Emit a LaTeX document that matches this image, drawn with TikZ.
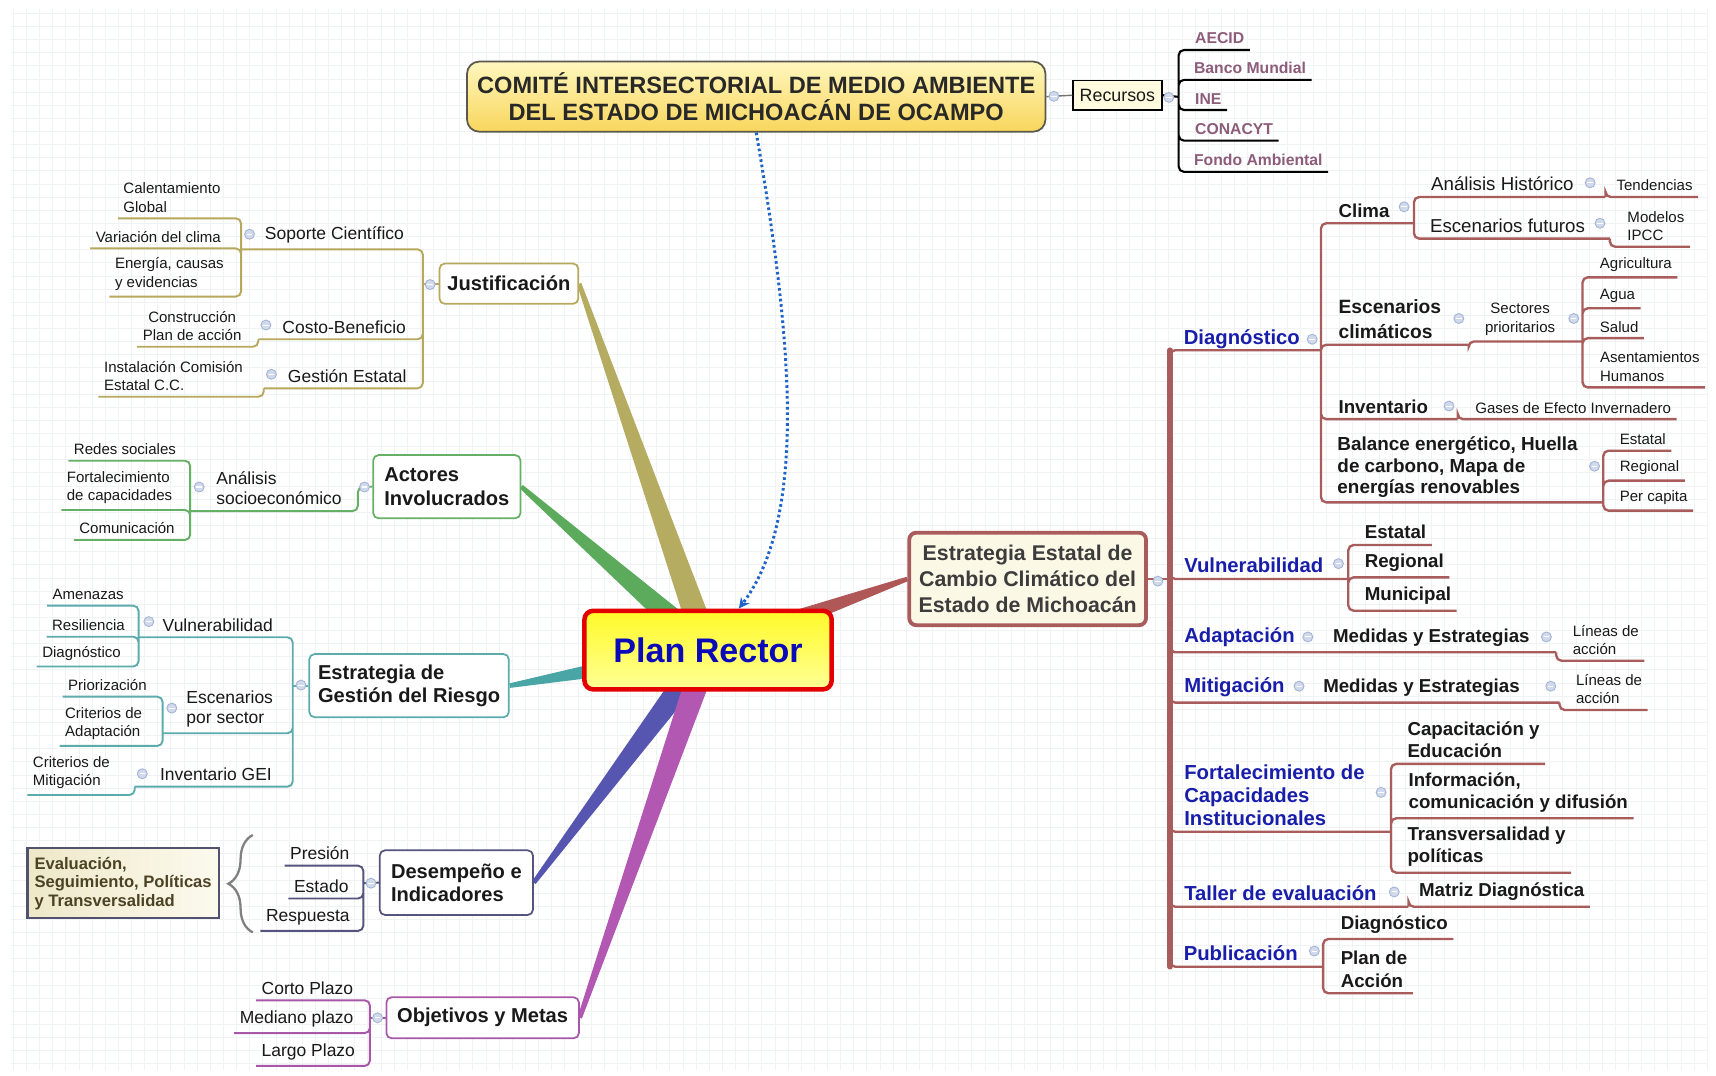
\documentclass[tikz,border=0pt]{standalone}
\usepackage{fontspec}
\setmainfont{Liberation Sans}
\usepackage{tikz}
\usetikzlibrary{positioning,calc,backgrounds,arrows.meta,decorations.pathreplacing}

\definecolor{txtc}{RGB}{25,25,25}
\definecolor{bluet}{RGB}{24,30,170}
\definecolor{resc}{RGB}{140,92,122}
\definecolor{gridc}{RGB}{239,243,244}
\definecolor{togf}{RGB}{208,218,236}
\definecolor{togd}{RGB}{165,180,212}
\definecolor{jusL}{RGB}{182,168,92}
\definecolor{jusW}{RGB}{181,172,98}
\definecolor{actL}{RGB}{102,176,102}
\definecolor{actW}{RGB}{92,170,92}
\definecolor{gesL}{RGB}{92,172,172}
\definecolor{gesW}{RGB}{74,166,166}
\definecolor{desL}{RGB}{84,84,124}
\definecolor{desW}{RGB}{86,86,176}
\definecolor{objL}{RGB}{168,88,168}
\definecolor{objW}{RGB}{178,88,178}
\definecolor{estL}{RGB}{168,92,92}
\definecolor{estW}{RGB}{176,88,88}
\definecolor{estf}{RGB}{252,248,230}
\definecolor{estt}{RGB}{60,60,60}
\definecolor{prred}{RGB}{228,0,0}
\definecolor{prblue}{RGB}{10,10,185}
\definecolor{combd}{RGB}{90,88,76}
\definecolor{recf}{RGB}{255,251,222}
\definecolor{evabd}{RGB}{82,82,112}
\definecolor{evat}{RGB}{76,66,36}
\definecolor{arrc}{RGB}{30,100,200}

\newcommand{\fsmall}{\fontsize{8.6}{10.6}\selectfont}
\newcommand{\fmed}{\fontsize{10}{11.5}\selectfont}
\newcommand{\fmedr}{\fontsize{10.7}{12.5}\selectfont}
\newcommand{\fbold}{\fontsize{10.7}{12.8}\selectfont\bfseries}
\newcommand{\fblue}{\fontsize{11.6}{13.2}\selectfont\bfseries}
\newcommand{\fmain}{\fontsize{11.5}{13.4}\selectfont\bfseries}
\newcommand{\fres}{\fontsize{9}{11}\selectfont\bfseries}

% tapered branch from Plan Rector to a main topic
\newcommand{\taperto}[2]{%
  \fill[#1] ($(#2)!1.3pt!90:(pr.center)$) -- ($(pr.center)!7.5pt!-90:(#2)$)
    -- ($(pr.center)!7.5pt!90:(#2)$) -- ($(#2)!1.3pt!-90:(pr.center)$) -- cycle;}

\tikzset{
  lbl/.style={anchor=south west, inner xsep=3pt, inner ysep=3.2pt, align=left, text=txtc},
  conn/.style={line width=1.1pt, rounded corners=3pt},
  estconn/.style={draw=estL, line width=1.35pt, rounded corners=3pt},
  tog/.style={circle, draw=togd, fill=togf, line width=0.5pt, minimum size=0.2cm, inner sep=0pt,
    path picture={\draw[white, line width=0.6pt] ([xshift=1.3pt]path picture bounding box.west)
      -- ([xshift=-1.3pt]path picture bounding box.east);}},
  topic/.style={draw, fill=white, rounded corners=3pt, line width=1pt, font=\fmain, text=txtc,
    align=left, inner sep=0pt},
  combox/.style={draw=combd, line width=1pt, rounded corners=7pt, top color={rgb,255:red,255;green,247;blue,190},
    bottom color={rgb,255:red,248;green,214;blue,92}, minimum width=11.63cm, minimum height=1.41cm,
    align=center, font=\fontsize{13.5}{14.9}\selectfont\bfseries, text={rgb,255:red,40;green,40;blue,40}},
  recbox/.style={draw=black, fill=recf, line width=1pt, minimum width=1.78cm, minimum height=0.59cm,
    inner sep=0pt, font=\fontsize{10.2}{12}\selectfont, text=txtc},
  prbox/.style={draw=prred, line width=2.6pt, rounded corners=5pt, top color={rgb,255:red,255;green,250;blue,40},
    bottom color={rgb,255:red,255;green,255;blue,150}, minimum width=4.97cm, minimum height=1.58cm,
    font=\fontsize{19.5}{22}\selectfont\bfseries, text=prblue},
  estbox/.style={draw=estL, line width=2.2pt, fill=estf, rounded corners=4pt, minimum width=4.76cm,
    minimum height=1.86cm, align=center, font=\fontsize{12.2}{15}\selectfont\bfseries, text=estt},
  evabox/.style={draw=evabd, line width=1.3pt, left color={rgb,255:red,238;green,232;blue,200},
    right color={rgb,255:red,252;green,250;blue,238}, minimum width=3.85cm, minimum height=1.41cm,
    inner sep=0pt, align=left, font=\fontsize{9.5}{10.6}\selectfont\bfseries, text=evat},
}

\begin{document}
\begin{tikzpicture}[x=0.022cm, y=-0.022cm]
\useasboundingbox (0,0) rectangle (1568,983);
\begin{scope}[on background layer]
  \fill[white] (0,0) rectangle (1568,983);
  \draw[gridc, line width=0.3pt, step=0.264cm] (10,8) grid (1560,978);
\end{scope}

% central and main topics
\node[prbox] (pr) at (647,594) {Plan Rector};
\node[combox] (com) at (691,88.3) {COMITÉ INTERSECTORIAL DE MEDIO AMBIENTE\\DEL ESTADO DE MICHOACÁN DE OCAMPO};
\node[recbox] (rec) at (1021,87) {Recursos};
\node[estbox] (est) at (939,529) {Estrategia Estatal de\\Cambio Climático del\\Estado de Michoacán};
\node[topic, draw=jusL, minimum width=2.79cm, minimum height=0.81cm] (jus) at (465,259.2) {Justificación};
\node[topic, draw=actL, minimum width=2.96cm, minimum height=1.27cm] (act) at (408.3,444.7) {Actores\\Involucrados};
\node[topic, draw=gesL, minimum width=4.01cm, minimum height=1.27cm] (ges) at (373.8,626.5) {Estrategia de\\Gestión del Riesgo};
\node[topic, draw=desL, minimum width=3.08cm, minimum height=1.3cm] (des) at (417,806.5) {Desempeño e\\Indicadores};
\node[topic, draw=objL, minimum width=3.87cm, minimum height=0.825cm] (obj) at (441,930) {Objetivos y Metas};
\node[evabox] (eva) at (112.5,807) {Evaluación,\\Seguimiento, Políticas\\y Transversalidad};

% recursos
\node[lbl, font=\fres, text=resc] (aecid) at (1087,45.7) {AECID};
\node[lbl, font=\fres, text=resc] (banco) at (1086,73) {Banco Mundial};
\node[lbl, font=\fres, text=resc] (ine) at (1087,100.5) {INE};
\node[lbl, font=\fres, text=resc] (conacyt) at (1087,128.5) {CONACYT};
\node[lbl, font=\fres, text=resc] (fondo) at (1086,157) {Fondo Ambiental};

% justificacion
\node[lbl, font=\fmed] (soporte) at (237,227.8) {Soporte Científico};
\node[lbl, font=\fsmall] (calent) at (107.7,199.5) {Calentamiento\\Global};
\node[lbl, font=\fsmall] (variac) at (82.4,227) {Variación del clima};
\node[lbl, font=\fsmall] (energia) at (100,271) {Energía, causas\\y evidencias};
\node[lbl, font=\fmed] (costo) at (253,310) {Costo-Beneficio};
\node[lbl, font=\fsmall, align=center] (constr) at (125.4,316.8) {Construcción\\Plan de acción};
\node[lbl, font=\fmed] (gestest) at (258,354.8) {Gestión Estatal};
\node[lbl, font=\fsmall] (instal) at (90,362.5) {Instalación Comisión\\Estatal C.C.};

% actores
\node[lbl, font=\fmed] (analisis) at (192.6,467) {Análisis\\socioeconómico};
\node[lbl, font=\fsmall] (redes) at (62.5,421) {Redes sociales};
\node[lbl, font=\fsmall] (fortal) at (56,466) {Fortalecimiento\\de capacidades};
\node[lbl, font=\fsmall] (comunic) at (67.4,493.4) {Comunicación};

% gestion del riesgo
\node[lbl, font=\fmed] (vulnL) at (143.6,582.3) {Vulnerabilidad};
\node[lbl, font=\fsmall] (amen) at (43,553.4) {Amenazas};
\node[lbl, font=\fsmall] (resil) at (42.5,581.8) {Resiliencia};
\node[lbl, font=\fsmall] (diagL) at (33.5,609) {Diagnóstico};
\node[lbl, font=\fmed] (escen) at (165.3,670) {Escenarios\\por sector};
\node[lbl, font=\fsmall] (prior) at (57.2,636.6) {Priorización};
\node[lbl, font=\fsmall] (critA) at (54.4,681.6) {Criterios de\\Adaptación};
\node[lbl, font=\fmed] (invGEI) at (141.2,718.8) {Inventario GEI};
\node[lbl, font=\fsmall] (critM) at (25,726.4) {Criterios de\\Mitigación};

% desempeno, objetivos
\node[lbl, font=\fmed] (presion) at (260,791) {Presión};
\node[lbl, font=\fmed] (estado) at (263.6,821) {Estado};
\node[lbl, font=\fmed] (respu) at (238,850.6) {Respuesta};
\node[lbl, font=\fmed] (corto) at (234,914) {Corto Plazo};
\node[lbl, font=\fmed] (mediano) at (214,944) {Mediano plazo};
\node[lbl, font=\fmed] (largo) at (234,974) {Largo Plazo};

% estrategia estatal
\node[lbl, font=\fblue, text=bluet] (diag) at (1076.6,324) {Diagnóstico};
\node[lbl, font=\fbold] (clima) at (1218,204) {Clima};
\node[lbl, font=\fmedr] (anhist) at (1302.6,180) {Análisis Histórico};
\node[lbl, font=\fsmall] (tend) at (1472,180) {Tendencias};
\node[lbl, font=\fmedr] (escfut) at (1301.6,218) {Escenarios futuros};
\node[lbl, font=\fsmall] (modelos) at (1482,225.4) {Modelos\\IPCC};
\node[lbl, font={\fontsize{11}{14.2}\selectfont\bfseries}] (escclim) at (1218,315) {Escenarios\\climáticos};
\node[lbl, font=\fsmall, anchor=south, align=center] (sector) at (1389,312) {Sectores\\prioritarios};
\node[lbl, font=\fsmall] (agri) at (1456.8,253.4) {Agricultura};
\node[lbl, font=\fsmall] (agua) at (1456.8,281.7) {Agua};
\node[lbl, font=\fsmall] (salud) at (1456.8,309) {Salud};
\node[lbl, font=\fsmall] (asent) at (1457,354) {Asentamientos\\Humanos};
\node[lbl, font=\fbold] (invent) at (1218,383) {Inventario};
\node[lbl, font=\fsmall] (gases) at (1343,383) {Gases de Efecto Invernadero};
\node[lbl, font={\fontsize{10.8}{12.2}\selectfont\bfseries}] (balance) at (1217,460) {Balance energético, Huella\\de carbono, Mapa de\\energías renovables};
\node[lbl, font=\fsmall] (estB) at (1475,411.8) {Estatal};
\node[lbl, font=\fsmall] (regB) at (1475,439.2) {Regional};
\node[lbl, font=\fsmall] (perB) at (1475,466.6) {Per capita};
\node[lbl, font=\fblue, text=bluet] (vulnR) at (1077,529) {Vulnerabilidad};
\node[lbl, font=\fbold] (estV) at (1242,498) {Estatal};
\node[lbl, font=\fbold] (regV) at (1242,527.6) {Regional};
\node[lbl, font=\fbold] (munV) at (1242,558) {Municipal};
\node[lbl, font=\fblue, text=bluet] (adap) at (1077,596) {Adaptación};
\node[lbl, font=\fbold] (medA) at (1213,596) {Medidas y Estrategias};
\node[lbl, font=\fsmall] (linA) at (1432,603.7) {Líneas de\\acción};
\node[lbl, font=\fblue, text=bluet] (mitig) at (1077,642) {Mitigación};
\node[lbl, font=\fbold] (medM) at (1204,642) {Medidas y Estrategias};
\node[lbl, font=\fsmall] (linM) at (1435,648.8) {Líneas de\\acción};
\node[lbl, font=\fblue, text=bluet] (fortR) at (1077,760) {Fortalecimiento de\\Capacidades\\Institucionales};
\node[lbl, font=\fbold] (capac) at (1281,698) {Capacitación y\\Educación};
\node[lbl, font=\fbold] (inform) at (1282,747.7) {Información,\\comunicación y difusión};
\node[lbl, font=\fbold] (transv) at (1281,797.4) {Transversalidad y\\políticas};
\node[lbl, font=\fblue, text=bluet] (taller) at (1077,828.5) {Taller de evaluación};
\node[lbl, font=\fbold] (matriz) at (1291.6,828.5) {Matriz Diagnóstica};
\node[lbl, font=\fblue, text=bluet] (publi) at (1076.6,883.3) {Publicación};
\node[lbl, font=\fbold] (diagP) at (1220,858) {Diagnóstico};
\node[lbl, font=\fbold] (planA) at (1220,907.6) {Plan de\\Acción};

% bracket points
\coordinate (bR) at (1077,88.5);
\coordinate (bJ) at (386.4,259.2);
\coordinate (bSC) at (220.3,227.8);
\coordinate (bCB) at (236,310);
\coordinate (bGE) at (241,354.8);
\coordinate (bA) at (327,445);
\coordinate (bAS) at (173.8,467);
\coordinate (bG) at (267.5,626.5);
\coordinate (bGV) at (126.6,582.3);
\coordinate (bGS) at (148.6,670);
\coordinate (bGI) at (123.1,718.8);
\coordinate (bDe) at (332,807);
\coordinate (bOb) at (338,930);
\coordinate (bEE) at (1069,529);
\coordinate (bD) at (1207,320);
\coordinate (bCl) at (1292,204);
\coordinate (bAH) at (1467,180);
\coordinate (bEF) at (1471,218);
\coordinate (bEc) at (1342,315);
\coordinate (bSp) at (1446,312);
\coordinate (bInv) at (1332,383);
\coordinate (bBal) at (1465,459);
\coordinate (bVu) at (1232,529);
\coordinate (bAd) at (1207,596);
\coordinate (bAdM) at (1422,596);
\coordinate (bMi) at (1198,642);
\coordinate (bMiM) at (1425,642);
\coordinate (bFo) at (1271,760);
\coordinate (bTa) at (1287,828.5);
\coordinate (bPu) at (1209,883.3);

\begin{scope}[on background layer]
  \taperto{jusW}{jus.east}
  \taperto{actW}{act.east}
  \taperto{gesW}{ges.east}
  \taperto{desW}{des.east}
  \taperto{objW}{obj.east}
  \taperto{estW}{est.west}
\end{scope}

\draw[arrc, line width=1.7pt, dash pattern=on 1.5pt off 1.6pt, -{Stealth[length=6pt, width=6pt]}]
  (com.south) .. controls (722,300) and (740,470) .. ([xshift=0.62cm]pr.north);

\draw[line width=0.8pt, black!55] (com.east) -- (rec.west);
\draw[conn, black, line width=1.2pt] (rec.east) -- (bR);
\draw[conn, black, line width=1.2pt] (bR) |- (aecid.south east) (bR) |- (banco.south east)
  (bR) |- (ine.south east) (bR) |- (conacyt.south east) (bR) |- (fondo.south east);

\draw[conn, jusL] (jus.west) -- (bJ);
\draw[conn, jusL] (bJ) |- (bSC) (bJ) |- (bCB) (bJ) |- (bGE);
\draw[conn, jusL] (bSC) |- (calent.south west) (bSC) |- (variac.south west) (bSC) |- (energia.south west);
\draw[conn, jusL] (bCB) |- (constr.south west);
\draw[conn, jusL] (bGE) |- (instal.south west);

\draw[conn, actL] (act.west) -- (bA) |- (bAS);
\draw[conn, actL] (bAS) |- (redes.south west) (bAS) |- (fortal.south west) (bAS) |- (comunic.south west);

\draw[conn, gesL] (ges.west) -- (bG);
\draw[conn, gesL] (bG) |- (bGV) (bG) |- (bGS) (bG) |- (bGI);
\draw[conn, gesL] (bGV) |- (amen.south west) (bGV) |- (resil.south west) (bGV) |- (diagL.south west);
\draw[conn, gesL] (bGS) |- (prior.south west) (bGS) |- (critA.south west);
\draw[conn, gesL] (bGI) |- (critM.south west);

\draw[conn, desL] (des.west) -- (bDe);
\draw[conn, desL] (bDe) |- (presion.south west) (bDe) |- (estado.south west) (bDe) |- (respu.south west);
\draw[decorate, decoration={brace, amplitude=14pt}, line width=1.3pt, black!50] (231,852) -- (231,763);

\draw[conn, objL] (obj.west) -- (bOb);
\draw[conn, objL] (bOb) |- (corto.south west) (bOb) |- (mediano.south west) (bOb) |- (largo.south west);

\draw[estL, line width=3.2pt, line cap=round] (bEE |- bD) -- (bEE |- bPu);
\draw[estconn] (est.east) -- (bEE);
\draw[estconn] (bEE) |- (bD) (bEE) |- (bVu) (bEE) |- (bAd) -- (bAdM) (bEE) |- (bMi) -- (bMiM)
  (bEE) |- (bFo) (bEE) |- (bTa) (bEE) |- (bPu);
\draw[estconn] (bD) |- (bCl) (bD) |- (bEc) (bD) |- (bInv) (bD) |- (bBal);
\draw[estconn] (bCl) |- (bAH) (bCl) |- (bEF);
\draw[estconn] (bAH) |- (tend.south east);
\draw[estconn] (bEF) |- (modelos.south east);
\draw[estconn] (bEc) |- (bSp);
\draw[estconn] (bSp) |- (agri.south east) (bSp) |- (agua.south east) (bSp) |- (salud.south east) (bSp) |- (asent.south east);
\draw[estconn] (bInv) |- (gases.south east);
\draw[estconn] (bBal) |- (estB.south east) (bBal) |- (regB.south east) (bBal) |- (perB.south east);
\draw[estconn] (bVu) |- (estV.south east) (bVu) |- (regV.south east) (bVu) |- (munV.south east);
\draw[estconn] (bAdM) |- (linA.south east);
\draw[estconn] (bMiM) |- (linM.south east);
\draw[estconn] (bFo) |- (capac.south east) (bFo) |- (inform.south east) (bFo) |- (transv.south east);
\draw[estconn] (bTa) |- (matriz.south east);
\draw[estconn] (bPu) |- (diagP.south east) (bPu) |- (planA.south east);

% collapse markers
\foreach \x/\y [count=\i] in {393/260, 228/214, 243/297, 248/342, 333/445, 182/445, 275/626, 136/568,
  157/647, 130/707, 339/807, 345/930, 963/88, 1068/89, 1058/531, 1199/310, 1283/189, 1453/167,
  1462/204, 1333/291, 1438/291, 1324/371, 1457/426, 1223/515, 1195/582, 1413/582, 1187/627,
  1417/627, 1262/724, 1274/815, 1201/869}
  \node[tog] (tog\i) at (\x,\y) {};
\end{tikzpicture}
\end{document}
